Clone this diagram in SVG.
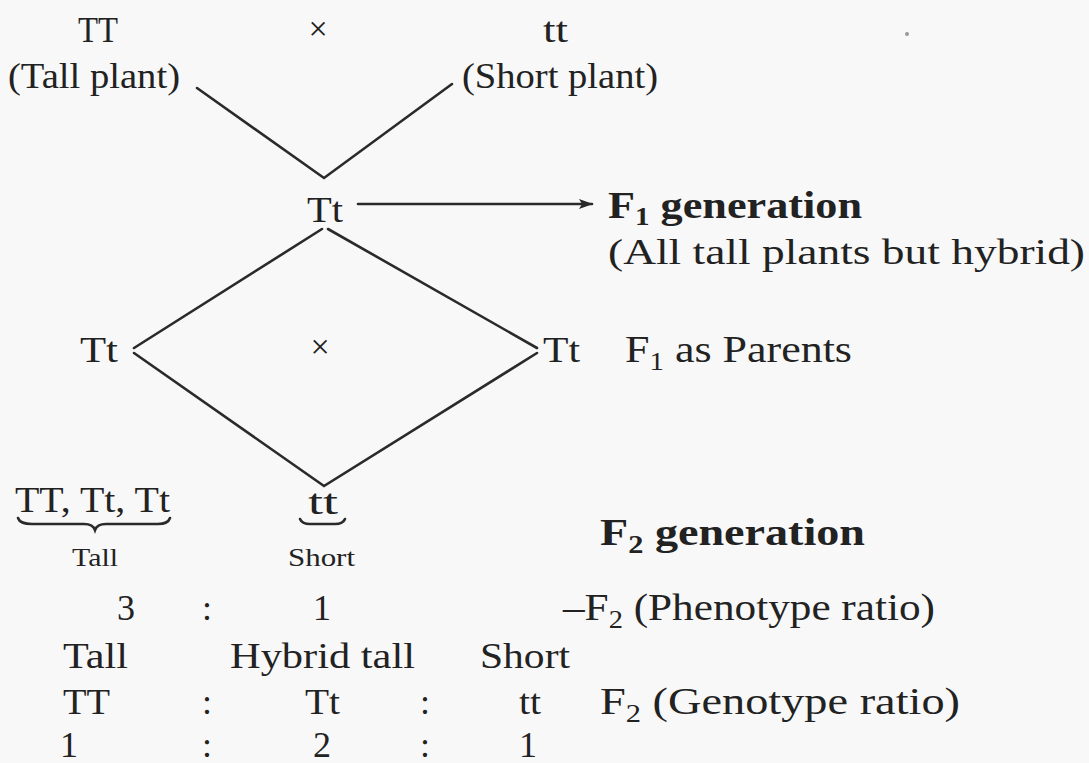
<svg xmlns="http://www.w3.org/2000/svg" width="1089" height="763" viewBox="0 0 1089 763">
<style>
text{font-family:"Liberation Serif","Times New Roman",serif;font-size:36px;fill:#222}
.b{font-weight:bold;font-size:38px}
.m{font-size:38px}
.s{font-size:26px}
.x{font-size:34px}
.sub{font-size:25px}
.ln{stroke:#2a2a2a;stroke-width:2.6;fill:none;stroke-linecap:round}
</style>
<defs>
<marker id="ah" markerWidth="14" markerHeight="10" refX="13" refY="5" orient="auto" markerUnits="userSpaceOnUse">
<path d="M0,0 L14,5 L0,10 L3,5 Z" fill="#2a2a2a"/>
</marker>
</defs>
<rect width="1089" height="763" fill="#f8f8f8"/>
<circle cx="907" cy="34" r="2" fill="#999"/>

<g id="parent-TT">
<text x="78" y="42" textLength="40" lengthAdjust="spacingAndGlyphs">TT</text>
<text x="8" y="88" textLength="172" lengthAdjust="spacingAndGlyphs">(Tall plant)</text>
</g>
<g id="cross1"><text class="x" x="318" y="40" text-anchor="middle">×</text></g>
<g id="parent-tt">
<text x="543" y="42" textLength="25" lengthAdjust="spacingAndGlyphs">tt</text>
<text x="462" y="88" textLength="196" lengthAdjust="spacingAndGlyphs">(Short plant)</text>
</g>
<g id="f1-Tt"><text x="307" y="222" textLength="36" lengthAdjust="spacingAndGlyphs">Tt</text></g>
<g id="f1-label">
<text class="b" x="608" y="218" textLength="254" lengthAdjust="spacingAndGlyphs">F<tspan class="sub" dy="7">1</tspan><tspan dy="-7"> generation</tspan></text>
<text x="608" y="264" textLength="477" lengthAdjust="spacingAndGlyphs">(All tall plants but hybrid)</text>
</g>
<g id="p-left"><text x="80" y="362" textLength="38" lengthAdjust="spacingAndGlyphs">Tt</text></g>
<g id="cross2"><text class="x" x="320" y="358" text-anchor="middle">×</text></g>
<g id="p-right"><text x="543" y="362" textLength="37" lengthAdjust="spacingAndGlyphs">Tt</text></g>
<g id="parents-label"><text class="m" x="625" y="362" textLength="227" lengthAdjust="spacingAndGlyphs">F<tspan class="sub" dy="8">1</tspan><tspan dy="-8"> as Parents</tspan></text></g>

<g id="f2-tall">
<text x="15" y="512" textLength="155" lengthAdjust="spacingAndGlyphs">TT, Tt, Tt</text>
<path class="ln" d="M18,518 Q20,524 32,524 L84,524 Q93,524 95,530 Q97,524 106,524 L158,524 Q168,524 170,518" stroke-width="2.2"/>
<text class="s" x="72" y="566" textLength="46" lengthAdjust="spacingAndGlyphs">Tall</text>
</g>
<g id="f2-short">
<text x="308" y="514" textLength="30" lengthAdjust="spacingAndGlyphs">tt</text>
<path class="ln" d="M300,519 Q302,524 310,524 L335,524 Q343,524 345,519" stroke-width="2.2"/>
<text class="s" x="288" y="566" textLength="67" lengthAdjust="spacingAndGlyphs">Short</text>
</g>
<g id="f2-label"><text class="b" x="600" y="545" textLength="265" lengthAdjust="spacingAndGlyphs">F<tspan class="sub" dy="8">2</tspan><tspan dy="-8"> generation</tspan></text></g>

<g id="phenotype">
<text x="126" y="620" text-anchor="middle">3</text>
<text x="207" y="620" text-anchor="middle">:</text>
<text x="322" y="620" text-anchor="middle">1</text>
<text class="m" x="563" y="620" textLength="372" lengthAdjust="spacingAndGlyphs">–F<tspan class="sub" dy="8">2</tspan><tspan dy="-8"> (Phenotype ratio)</tspan></text>
</g>
<g id="labels-row">
<text x="63" y="668" textLength="65" lengthAdjust="spacingAndGlyphs">Tall</text>
<text x="230" y="668" textLength="185" lengthAdjust="spacingAndGlyphs">Hybrid tall</text>
<text x="480" y="668" textLength="90" lengthAdjust="spacingAndGlyphs">Short</text>
</g>
<g id="genotype">
<text x="63" y="714" textLength="47" lengthAdjust="spacingAndGlyphs">TT</text>
<text x="207" y="714" text-anchor="middle">:</text>
<text x="305" y="714" textLength="35" lengthAdjust="spacingAndGlyphs">Tt</text>
<text x="425" y="714" text-anchor="middle">:</text>
<text x="519" y="714" textLength="22" lengthAdjust="spacingAndGlyphs">tt</text>
<text class="m" x="600" y="714" textLength="360" lengthAdjust="spacingAndGlyphs">F<tspan class="sub" dy="8">2</tspan><tspan dy="-8"> (Genotype ratio)</tspan></text>
</g>
<g id="genotype-ratio">
<text x="69" y="757" text-anchor="middle">1</text>
<text x="207" y="757" text-anchor="middle">:</text>
<text x="322" y="757" text-anchor="middle">2</text>
<text x="425" y="757" text-anchor="middle">:</text>
<text x="528" y="757" text-anchor="middle">1</text>
</g>

<g id="connectors">
<path class="ln" d="M197,88 L324,178 L452,84"/>
<path class="ln" d="M358,204 L592,204" marker-end="url(#ah)" stroke-width="2"/>
<path class="ln" d="M322,229 L134,348 M328,229 L537,348 M134,353 L324,486 L537,353"/>
</g>
</svg>
